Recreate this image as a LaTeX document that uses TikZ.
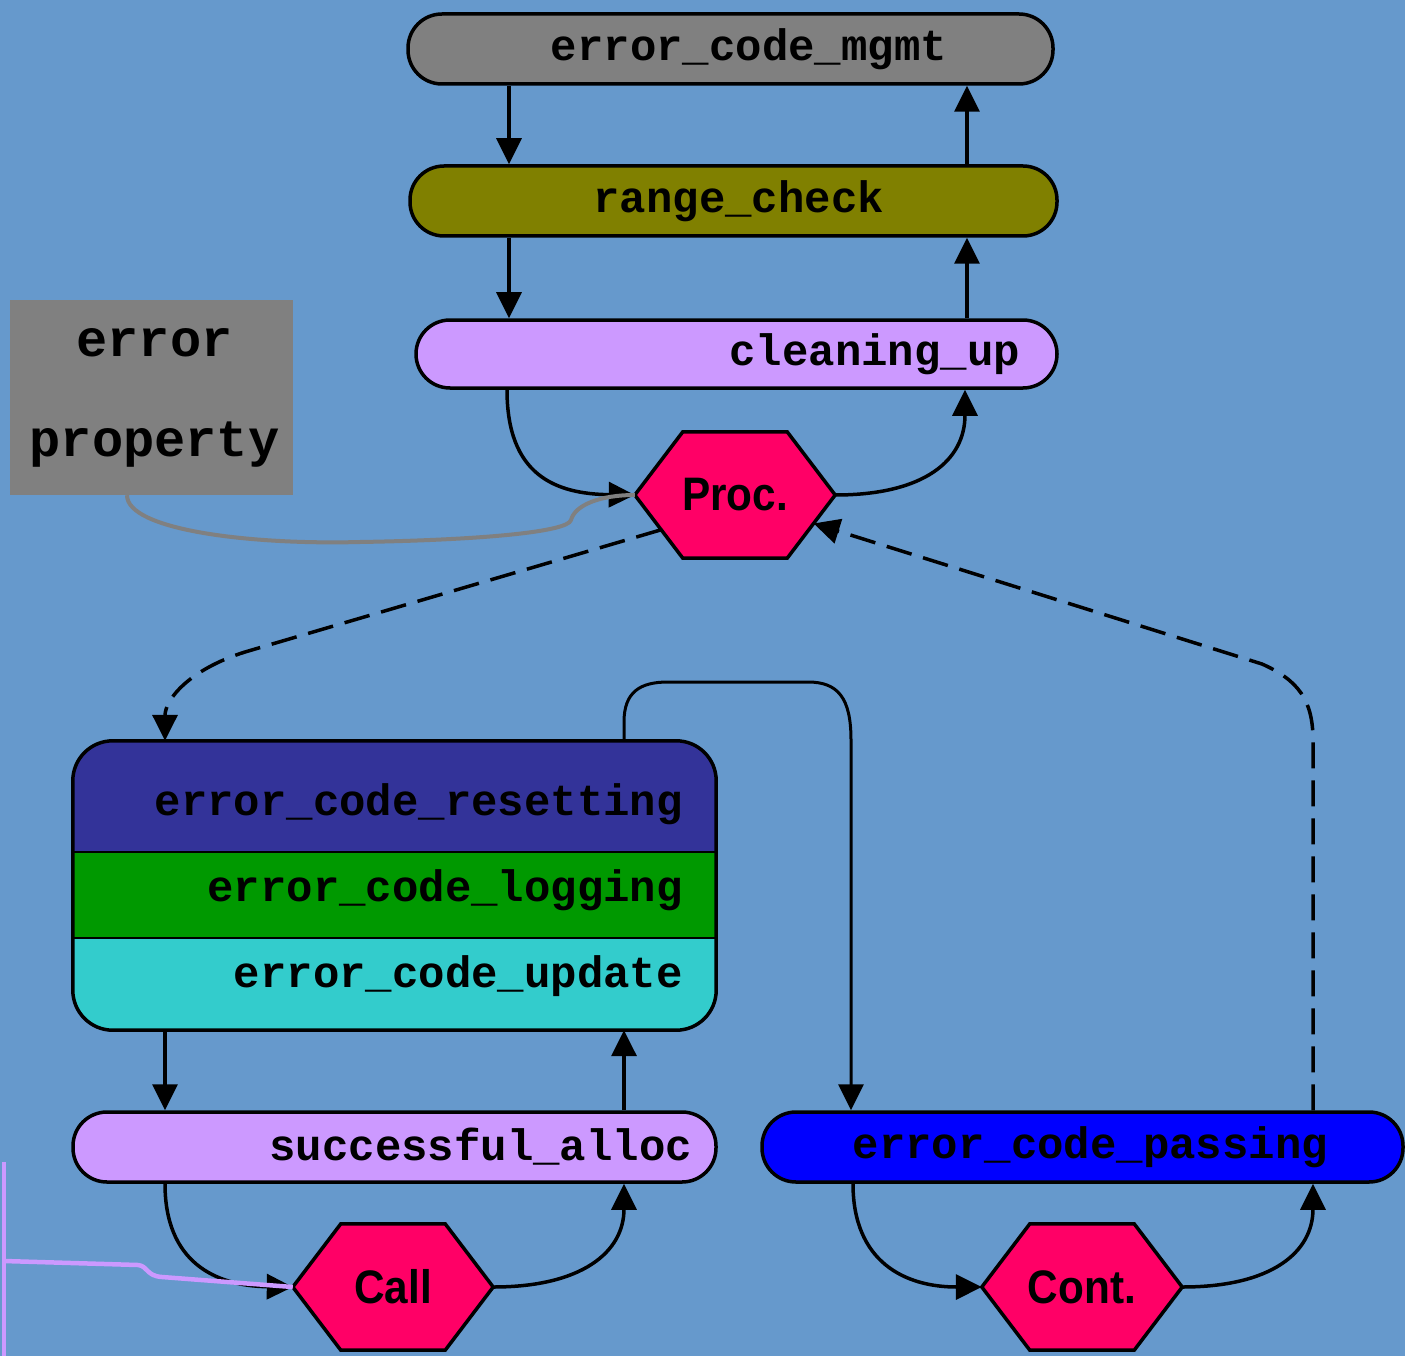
\documentclass[tikz,border=0pt]{standalone}
\usepackage{fontspec}
\setmonofont{Liberation Mono}
\setsansfont{Liberation Sans}
\newfontfamily\hexfont[FakeStretch=0.9]{Liberation Sans}
\usetikzlibrary{arrows.meta,calc}
\definecolor{bgblue}{HTML}{6699CC}
\definecolor{mgray}{HTML}{808080}
\definecolor{molive}{HTML}{808000}
\definecolor{lav}{HTML}{CC99FF}
\definecolor{hotpink}{HTML}{FF0066}
\definecolor{dkblue}{HTML}{333399}
\definecolor{mgreen}{HTML}{009900}
\definecolor{mcyan}{HTML}{33CCCC}
\definecolor{pblue}{HTML}{0000FF}
\pgfdeclarelayer{hexl}
\pgfsetlayers{hexl,main}
\tikzset{
  bar/.style={draw=black, line width=3.5pt, rounded corners=34pt, minimum height=70pt,
    inner ysep=0pt, font=\ttfamily\bfseries\fontsize{44}{50}\selectfont, align=right},
  btext/.style={inner sep=0pt, font=\ttfamily\bfseries\fontsize{44}{50}\selectfont},
  hexlabel/.style={shape=rectangle, minimum width=200pt, minimum height=126pt, inner sep=0pt,
    font=\hexfont\bfseries\fontsize{47}{52}\selectfont},
  hexfill/.style={draw=black, line width=3.5pt, fill=hotpink, line join=miter},
  arr/.style={line width=3.5pt, -{Triangle[length=26pt,width=25pt]}},
  dashline/.style={line width=3.5pt, dash pattern=on 26pt off 12pt},
}
\newcommand\hexnode[3]{%
  \node[hexlabel] (#1) at #2 {#3};
  \begin{pgfonlayer}{hexl}
    \draw[hexfill] (#1.west) -- ([xshift=48pt]#1.north west) -- ([xshift=-48pt]#1.north east)
      -- (#1.east) -- ([xshift=-48pt]#1.south east) -- ([xshift=48pt]#1.south west) -- cycle;
  \end{pgfonlayer}}
\begin{document}
\begin{tikzpicture}[x=1pt,y=-1pt]
\begin{pgfonlayer}{hexl}
  \fill[bgblue] (0,0) rectangle (1405,1356);
\end{pgfonlayer}
\useasboundingbox (0,0) rectangle (1405,1356);

% bars
\node[bar, fill=mgray, inner xsep=106pt, text width=433pt] (mgmt) at (730.5,49) {error\_code\_mgmt};
\node[bar, fill=molive, inner xsep=173pt, text width=301pt] (range) at (733.5,201) {range\_check};
\node[bar, fill=lav, inner xsep=37pt, text width=567pt, minimum height=68pt] (clean) at (736.5,354) {cleaning\_up};
\node[bar, fill=lav, inner xsep=24pt, text width=595pt] (succ) at (394.5,1147) {successful\_alloc};
\node[bar, fill=pblue, inner xsep=75pt, text width=491pt] (pass) at (1082.5,1147) {error\_code\_passing};

% property box
\node[fill=mgray, minimum width=283pt, minimum height=195pt, inner sep=0pt, align=center,
  font=\ttfamily\bfseries\fontsize{52}{100}\selectfont] (prop) at (151.5,397.5) {\hspace*{6pt}error\\\hspace*{6pt}property};

% hexagons
\hexnode{proc}{(735,495)}{Proc.}
\hexnode{call}{(393,1287)}{Call}
\hexnode{cont}{(1082,1287)}{Cont.}

% big box
\node[minimum width=643pt, minimum height=289pt, inner sep=0pt] (big) at (394.5,885.5) {};
\begin{scope}
  \clip[rounded corners=40pt] (big.south west) rectangle (big.north east);
  \fill[dkblue] (big.north west) rectangle (716,852);
  \fill[mgreen] (73,852) rectangle (716,938);
  \fill[mcyan] (73,938) rectangle (big.south east);
\end{scope}
\draw[line width=2pt] (big.west |- 0,852) -- (big.east |- 0,852);
\draw[line width=2pt] (big.west |- 0,938) -- (big.east |- 0,938);
\draw[line width=3.5pt, rounded corners=40pt] (big.south west) rectangle (big.north east);
\node[btext, anchor=base east] (tres) at (683,815) {error\_code\_resetting};
\node[btext, anchor=base east] (tlog) at (683,901) {error\_code\_logging};
\node[btext, anchor=base east] (tupd) at (683,987) {error\_code\_update};

% x positions for vertical connectors
\coordinate (xa) at (509,0);
\coordinate (xb) at (967,0);
\coordinate (xc) at (165,0);
\coordinate (xd) at (624,0);
\coordinate (xe) at (851,0);
\coordinate (xf) at (1313,0);
\coordinate (xg) at (507,0);
\coordinate (xh) at (853,0);

% top stack
\draw[arr] (mgmt.south -| xa) -- (range.north -| xa);
\draw[arr] (range.north -| xb) -- (mgmt.south -| xb);
\draw[arr] (range.south -| xa) -- (clean.north -| xa);
\draw[arr] (clean.north -| xb) -- (range.south -| xb);
\draw[arr] (clean.south -| xg) .. controls (507,475) and (555,494) .. (proc.west);
\draw[arr] (proc.east) .. controls (925,495) and (965,460) .. (clean.south -| 965,0);

% property link
\draw[line width=4pt, mgray] ([xshift=-24.5pt]prop.south) .. controls (127,530) and (250,545) .. (360,542)
  .. controls (480,540) and (568,532) .. (571,520) .. controls (575,505) and (600,495) .. (proc.west);

% dashed from Proc to big box
\draw[dashline, -{Triangle[length=26pt,width=25pt]}]
  ($(proc.west)!0.55!([xshift=48pt]proc.south west)$) -- (245,652)
  .. controls (188,670) and (165,700) .. (big.north -| xc);
% dashed from passing to Proc
\draw[dashline, -{Triangle[length=26pt,width=25pt]}]
  (pass.north -| xf) -- (1313,740) .. controls (1313,700) and (1298,680) .. (1262,664)
  -- ($(proc.east)!0.45!([xshift=-48pt]proc.south east)$);

% big box to passing
\draw[arr, line width=3pt] (big.north -| xd) -- (624,722) .. controls (624,692) and (640,682) .. (668,682)
  -- (808,682) .. controls (838,682) and (851,698) .. (851,740) -- (pass.north -| xe);

% lower left stack
\draw[arr] (big.south -| xc) -- (succ.north -| xc);
\draw[arr] (succ.north -| xd) -- (big.south -| xd);
\draw[arr] (succ.south -| xc) .. controls (165,1262) and (215,1286) .. (call.west);
\draw[arr] (call.east) .. controls (582,1287) and (624,1252) .. (succ.south -| xd);

% lower right
\draw[arr] (pass.south -| xh) .. controls (853,1262) and (905,1287) .. (cont.west);
\draw[arr] (cont.east) .. controls (1272,1287) and (1313,1252) .. (pass.south -| xf);

% lavender link on the left
\coordinate (lv1) at (4,1162);
\coordinate (lv2) at (4,1356);
\coordinate (lv3) at (4,1261);
\draw[line width=4.5pt, lav] (lv1) -- (lv2);
\draw[line width=4.5pt, lav] (lv3) -- (138,1265) .. controls (148,1266) and (146,1276) .. (162,1277) -- (call.west);
\end{tikzpicture}
\end{document}
